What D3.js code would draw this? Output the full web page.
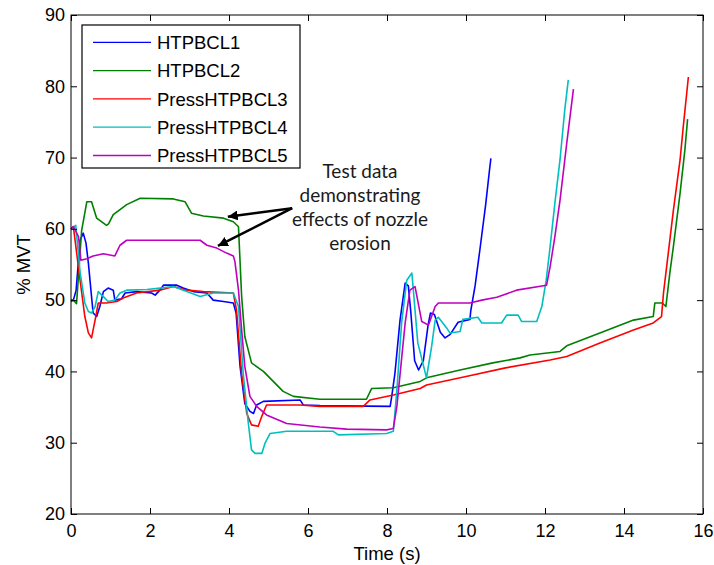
<!DOCTYPE html>
<html>
<head>
<meta charset="utf-8">
<script src="https://cdn.jsdelivr.net/npm/d3@7"></script>
<style>
  html, body { margin: 0; padding: 0; background: #fff; }
  svg { display: block; }
</style>
</head>
<body>
<svg id="chart" width="714" height="565"></svg>
<script>
// ---- Data ----
const seriesNames = ["HTPBCL1", "HTPBCL2", "PressHTPBCL3", "PressHTPBCL4", "PressHTPBCL5"];
const seriesColors = ["#0000ff", "#008000", "#ff0000", "#00bfbf", "#bf00bf"];

const htpbcl1T = [0, 0.06, 0.13, 0.23, 0.31, 0.38, 0.44, 0.52, 0.56, 0.65, 0.73, 0.82, 0.94, 1.07, 1.11, 1.28, 1.37, 1.66, 2.04, 2.13, 2.25, 2.34, 2.68, 2.84, 3.1, 3.44, 3.6, 3.86, 4.11, 4.18, 4.28, 4.4, 4.53, 4.62, 4.7, 4.87, 5.8, 5.88, 6.3, 8.08, 8.12, 8.2, 8.33, 8.46, 8.54, 8.6, 8.7, 8.8, 8.92, 9.04, 9.1, 9.2, 9.35, 9.47, 9.6, 9.8, 10.1, 10.12, 10.23, 10.35, 10.5, 10.6, 10.63];
const htpbcl1V = [50, 50, 51.4, 58.4, 59.4, 58, 55.2, 50.5, 48.2, 47.7, 49.1, 51.2, 51.7, 51.4, 50, 50.2, 51, 51.2, 51, 50.7, 51.4, 52.1, 52.1, 51.7, 51.2, 51, 50, 49.8, 49.6, 48.2, 40.7, 35.5, 34.4, 34.1, 35.3, 35.8, 36, 35.3, 35.2, 35.1, 36.5, 39.7, 47.2, 52.4, 52, 48.5, 41.5, 40.2, 41.5, 46.5, 48.2, 48, 45.5, 44.7, 45.2, 46.9, 47.3, 48.5, 52, 57, 63.5, 68.5, 69.9];

const htpbcl2T = [0, 0.06, 0.14, 0.27, 0.4, 0.52, 0.65, 0.9, 0.95, 1.07, 1.41, 1.75, 2.59, 2.89, 3.05, 3.35, 3.86, 4.11, 4.24, 4.32, 4.4, 4.57, 4.87, 5.12, 5.37, 5.63, 6.3, 7.48, 7.61, 8.16, 8.84, 9.0, 9.85, 10.68, 11.37, 11.62, 12.38, 12.55, 13.39, 14.24, 14.74, 14.78, 14.97, 15.06, 15.16, 15.25, 15.42, 15.54, 15.61];
const htpbcl2V = [49.8, 50, 49.5, 59.8, 63.8, 63.8, 61.5, 60.5, 60.7, 62, 63.4, 64.3, 64.2, 63.8, 62.2, 61.8, 61.5, 61, 60.3, 50.5, 44.9, 41.2, 40, 38.6, 37.2, 36.5, 36.1, 36.1, 37.6, 37.7, 38.6, 39.1, 40.2, 41.2, 41.9, 42.3, 42.8, 43.6, 45.4, 47.2, 47.7, 49.6, 49.6, 49.1, 53.8, 57.5, 65, 71, 75.4];

const press3T = [0, 0.06, 0.23, 0.35, 0.44, 0.52, 0.61, 0.69, 0.9, 1.16, 1.32, 1.66, 2.25, 2.59, 2.93, 3.35, 4.11, 4.19, 4.32, 4.45, 4.57, 4.74, 4.83, 4.95, 5.8, 6.3, 7.4, 7.57, 8.16, 8.84, 9.0, 10.0, 11.0, 12.13, 12.55, 13.39, 14.24, 14.74, 14.95, 15.0, 15.08, 15.25, 15.42, 15.5, 15.63];
const press3V = [60, 60.3, 52.8, 47.7, 45.4, 44.7, 47.2, 49.6, 49.6, 49.8, 50.3, 51, 51.4, 51.9, 51.4, 51.2, 51, 48.6, 39.7, 34.1, 32.5, 32.3, 33.7, 35.3, 35.3, 35.1, 35.1, 36, 36.7, 37.6, 38.1, 39.3, 40.5, 41.6, 42.1, 44, 45.8, 46.8, 47.7, 51, 54.7, 62.6, 69.7, 74.3, 81.3];

const press4T = [0, 0.12, 0.23, 0.35, 0.44, 0.52, 0.61, 0.69, 0.82, 0.94, 1.11, 1.24, 1.41, 1.92, 2.59, 2.93, 3.27, 3.6, 4.11, 4.24, 4.36, 4.49, 4.57, 4.66, 4.83, 4.91, 5.04, 5.46, 6.64, 6.77, 7.99, 8.16, 8.25, 8.37, 8.5, 8.63, 8.78, 9.0, 9.13, 9.22, 9.3, 9.51, 9.59, 9.85, 9.92, 10.3, 10.4, 10.9, 11.03, 11.32, 11.41, 11.79, 11.92, 12.03, 12.13, 12.25, 12.38, 12.5, 12.59];
const press4V = [60, 60.5, 53.9, 49.6, 48.4, 48.2, 49.1, 51.2, 50.5, 49.8, 50, 51, 51.4, 51.5, 51.9, 51.2, 50.5, 51, 51, 49.1, 39.7, 32.7, 29, 28.5, 28.5, 29.9, 31.3, 31.6, 31.6, 31.1, 31.3, 31.6, 37.4, 46.8, 52.8, 53.8, 44, 39.1, 43.5, 47.2, 47.6, 46.1, 45.4, 45.6, 47.3, 47.6, 46.8, 46.8, 47.9, 47.9, 47, 47, 49.1, 52.8, 57.5, 63.6, 69.7, 76.7, 80.9];

const press5T = [0, 0.06, 0.19, 0.25, 0.4, 0.56, 0.82, 1.11, 1.24, 1.41, 2.25, 3.27, 3.44, 3.69, 3.94, 4.11, 4.15, 4.24, 4.32, 4.4, 4.53, 4.7, 4.95, 5.46, 6.3, 6.98, 7.99, 8.16, 8.25, 8.46, 8.58, 8.71, 8.88, 9.05, 9.22, 9.3, 10.1, 10.4, 10.78, 11.28, 12.04, 12.13, 12.25, 12.38, 12.55, 12.72];
const press5V = [60, 60.3, 58.9, 55.6, 55.8, 56.2, 56.5, 56.2, 57.7, 58.4, 58.4, 58.4, 57.7, 57.3, 56.6, 56.2, 55.4, 51.4, 45.8, 40.7, 36.5, 35.1, 33.9, 32.7, 32.2, 31.9, 31.8, 32, 35.1, 46.8, 51.4, 51.9, 47, 46.5, 49.1, 49.6, 49.6, 50, 50.4, 51.4, 52.1, 54.7, 58.9, 64, 72, 79.6];

const xTicks = [0, 2, 4, 6, 8, 10, 12, 14, 16];
const yTicks = [20, 30, 40, 50, 60, 70, 80, 90];
const xLabel = "Time (s)";
const yLabel = "% MVT";
const annotationLines = ["Test data", "demonstrating", "effects of nozzle", "erosion"];
const arrowTail = [5.6, 62.9];
const arrowTips = [[3.97, 61.7], [3.72, 57.6]];

// ---- Build ----
const seriesT = [htpbcl1T, htpbcl2T, press3T, press4T, press5T];
const seriesV = [htpbcl1V, htpbcl2V, press3V, press4V, press5V];
const series = seriesNames.map((name, i) => ({
  name, color: seriesColors[i],
  points: seriesT[i].map((t, j) => [t, seriesV[i][j]])
}));

const ARIAL = "'Liberation Sans', Arial, sans-serif";
const svg = d3.select("#chart");
const m = { left: 71, top: 15, right: 714 - 703, bottom: 565 - 514 };
const W = 714 - m.left - m.right, H = 565 - m.top - m.bottom;

const x = d3.scaleLinear().domain([0, 16]).range([m.left, m.left + W]);
const y = d3.scaleLinear().domain([20, 90]).range([m.top + H, m.top]);

// Lines
const line = d3.line().x(d => x(d[0])).y(d => y(d[1]));
const plot = svg.append("g");
series.forEach(s => {
  plot.append("path").datum(s.points)
    .attr("d", line)
    .attr("fill", "none")
    .attr("stroke", s.color)
    .attr("stroke-width", 1.6)
    .attr("stroke-linejoin", "round");
});

// Axes (inward ticks, all four sides)
const tickLen = 6;
const fs = 18;
const axB = svg.append("g").attr("transform", `translate(0,${m.top + H})`)
  .call(d3.axisBottom(x).tickValues(xTicks).tickSizeInner(-tickLen).tickSizeOuter(0).tickPadding(10));
const axT = svg.append("g").attr("transform", `translate(0,${m.top})`)
  .call(d3.axisTop(x).tickValues(xTicks).tickSizeInner(-tickLen).tickSizeOuter(0).tickFormat(""));
const axL = svg.append("g").attr("transform", `translate(${m.left},0)`)
  .call(d3.axisLeft(y).tickValues(yTicks).tickSizeInner(-tickLen).tickSizeOuter(0).tickPadding(6));
const axR = svg.append("g").attr("transform", `translate(${m.left + W},0)`)
  .call(d3.axisRight(y).tickValues(yTicks).tickSizeInner(-tickLen).tickSizeOuter(0).tickFormat(""));
[axB, axT, axL, axR].forEach(a => {
  a.select(".domain").remove();
  a.selectAll("line").attr("stroke", "#000");
  a.selectAll("text").attr("font-size", fs).attr("fill", "#000").attr("font-family", ARIAL);
});
axB.selectAll("text").attr("dy", "0.71em");

// Frame
svg.append("rect").attr("x", m.left).attr("y", m.top).attr("width", W).attr("height", H)
  .attr("fill", "none").attr("stroke", "#000").attr("stroke-width", 1);

// Axis labels
svg.append("text").attr("x", x(8)).attr("y", 560).attr("text-anchor", "middle")
  .attr("font-family", ARIAL).attr("font-size", 18.5).attr("fill", "#000").text(xLabel);
svg.append("text").attr("transform", `translate(30,${y(55)}) rotate(-90)`)
  .attr("text-anchor", "middle").attr("font-family", ARIAL)
  .attr("font-size", 18.5).attr("fill", "#000").text(yLabel);

// Legend
const lg = svg.append("g");
lg.append("rect").attr("x", 82).attr("y", 25).attr("width", 218).attr("height", 143)
  .attr("fill", "#fff").attr("stroke", "#000").attr("stroke-width", 1.2);
series.forEach((s, i) => {
  const cy = 42.3 + i * 28.3;
  lg.append("line").attr("x1", 93).attr("x2", 151).attr("y1", cy).attr("y2", cy)
    .attr("stroke", s.color).attr("stroke-width", 1.3);
  lg.append("text").attr("x", 157).attr("y", cy).attr("dy", "0.36em")
    .attr("font-family", ARIAL).attr("font-size", 18.5).attr("fill", "#000").text(s.name);
});

// Annotation
const defs = svg.append("defs");
defs.append("marker").attr("id", "ah").attr("viewBox", "0 0 10 10")
  .attr("refX", 10).attr("refY", 5).attr("markerWidth", 10).attr("markerHeight", 10)
  .attr("markerUnits", "userSpaceOnUse").attr("orient", "auto")
  .append("path").attr("d", "M0,0 L10,5 L0,10 z").attr("fill", "#000");
arrowTips.forEach(tip => {
  svg.append("line")
    .attr("x1", x(arrowTail[0])).attr("y1", y(arrowTail[1]))
    .attr("x2", x(tip[0])).attr("y2", y(tip[1]))
    .attr("stroke", "#000").attr("stroke-width", 2.5).attr("marker-end", "url(#ah)");
});
const ann = svg.append("text").attr("font-family", "Lato, 'Open Sans', sans-serif")
  .attr("font-size", 19).attr("fill", "#1a1a1a").attr("text-anchor", "middle");
annotationLines.forEach((t, i) => {
  ann.append("tspan").attr("x", 360).attr("y", 178 + i * 24).text(t);
});
</script>
</body>
</html>
